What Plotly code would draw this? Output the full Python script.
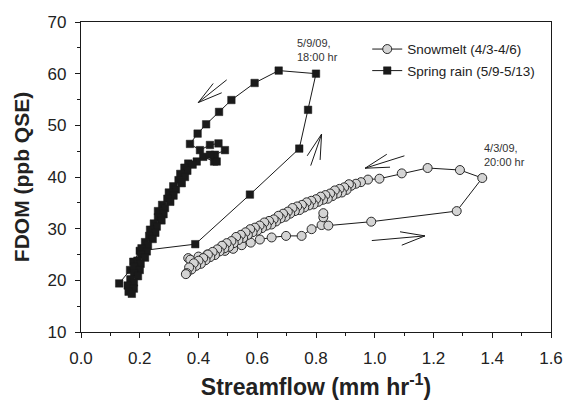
import plotly.graph_objects as go

# ---------------- data ----------------
snow_q = [0.365, 0.372, 0.400, 0.430, 0.460, 0.490, 0.518, 0.547, 0.578, 0.609, 0.649,
          0.698, 0.751, 0.785, 0.819, 0.825, 0.825, 0.842, 0.988, 1.279, 1.366,
          1.290, 1.180, 1.092, 1.016, 0.977, 0.953, 0.936, 0.920,
          0.912, 0.904, 0.896, 0.888, 0.880, 0.872, 0.864, 0.856, 0.848, 0.840,
          0.832, 0.824, 0.816, 0.808, 0.800, 0.792, 0.784, 0.776, 0.768, 0.760,
          0.752, 0.744, 0.736, 0.728, 0.720, 0.712, 0.704, 0.696, 0.688, 0.680,
          0.672, 0.664, 0.656, 0.648, 0.640, 0.632, 0.624, 0.616, 0.608, 0.600,
          0.592, 0.584, 0.576, 0.568, 0.560, 0.552, 0.544, 0.536, 0.528, 0.520,
          0.512, 0.504, 0.496, 0.488, 0.480, 0.472, 0.464, 0.456, 0.448, 0.440,
          0.432, 0.424, 0.416, 0.408, 0.400, 0.392, 0.384, 0.376, 0.368, 0.360,
          0.357]
snow_fdom = [24.3, 24.0, 24.6, 25.0, 25.4, 25.7, 26.1, 26.8, 27.3, 27.9, 28.3,
             28.6, 28.6, 29.9, 30.7, 32.2, 33.0, 30.6, 31.35, 33.4, 39.8,
             41.35, 41.74, 40.7, 39.67, 39.5, 39.0, 38.7, 38.3,
             38.6, 37.5, 38.0, 37.0, 37.7, 36.8, 37.4, 36.3, 36.8, 35.8,
             36.5, 35.6, 36.2, 35.2, 35.7, 34.7, 35.4, 34.5, 35.1, 34.1,
             34.6, 33.6, 34.3, 33.4, 34.0, 32.9, 33.3, 32.3, 32.9, 32.0,
             32.5, 31.4, 31.8, 30.8, 31.5, 30.6, 31.2, 30.1, 30.6, 29.6,
             30.2, 29.3, 29.9, 28.8, 29.3, 28.2, 28.8, 27.8, 28.4, 27.2,
             27.6, 26.5, 27.2, 26.2, 26.7, 25.6, 26.0, 24.9, 25.5, 24.5,
             25.0, 23.9, 24.3, 23.2, 23.8, 22.8, 23.3, 22.1, 22.5, 21.4,
             21.2]

rain_q = [0.130, 0.167, 0.178, 0.200, 0.389, 0.575, 0.743, 0.773, 0.800, 0.673,
          0.591, 0.512, 0.470, 0.426, 0.397, 0.371, 0.405, 0.439, 0.468, 0.490,
          0.456, 0.416, 0.453, 0.462, 0.439, 0.394, 0.365,
          0.380, 0.352, 0.362, 0.338, 0.354, 0.332, 0.343, 0.314, 0.323, 0.299,
          0.315, 0.294, 0.304, 0.276, 0.286, 0.262, 0.281, 0.262, 0.274, 0.248,
          0.258, 0.235, 0.253, 0.232, 0.244, 0.218, 0.228, 0.206, 0.224, 0.205,
          0.218, 0.192, 0.203, 0.181, 0.200, 0.181, 0.194, 0.168, 0.180, 0.159,
          0.180, 0.162, 0.173]
rain_fdom = [19.4, 22.0, 23.6, 25.7, 27.0, 36.6, 45.5, 53.0, 60.0, 60.6,
             58.2, 54.9, 52.6, 50.2, 48.4, 46.4, 45.2, 46.2, 46.5, 45.2,
             44.3, 43.9, 43.0, 43.0, 44.3, 43.0, 42.6,
             42.4, 41.8, 41.2, 40.6, 40.0, 39.4, 38.8, 38.2, 37.6, 37.0,
             36.4, 35.8, 35.2, 34.6, 34.0, 33.4, 32.8, 32.2, 31.6, 31.0,
             30.4, 29.8, 29.2, 28.6, 28.0, 27.4, 26.8, 26.2, 25.6, 25.0,
             24.4, 23.8, 23.2, 22.6, 22.0, 21.4, 20.8, 20.2, 19.6, 19.0,
             18.4, 17.8, 17.4]

series_names = ["Snowmelt (4/3-4/6)", "Spring rain (5/9-5/13)"]
x_ticks = [0.0, 0.2, 0.4, 0.6, 0.8, 1.0, 1.2, 1.4, 1.6]
y_ticks = [10, 20, 30, 40, 50, 60, 70]

# ---------------- figure ----------------
FONT = "Arial, Liberation Sans, Helvetica, sans-serif"
fig = go.Figure()

fig.add_trace(go.Scatter(
    x=snow_q, y=snow_fdom, mode="lines+markers", name=series_names[0],
    legendgroup="a",
    line=dict(color="#1a1a1a", width=1),
    marker=dict(symbol="circle", size=9, color="#d4d4d4",
                line=dict(color="#2a2a2a", width=1)),
))
fig.add_trace(go.Scatter(
    x=rain_q, y=rain_fdom, mode="lines+markers", name=series_names[1],
    legendgroup="b",
    line=dict(color="#1a1a1a", width=1),
    marker=dict(symbol="square", size=7.5, color="#1a1a1a",
                line=dict(color="#1a1a1a", width=0.5)),
))

# open-headed arrows (tip, then the three strokes leaving it)
arrows = [
    ((0.399, 54.4), [(0.496, 58.8), (0.450, 58.1), (0.479, 56.3)]),
    ((0.819, 48.3), [(0.770, 44.1), (0.782, 42.2), (0.814, 43.3)]),
    ((0.967, 41.7), [(1.101, 44.1), (1.041, 44.4), (1.052, 41.9)]),
    ((1.171, 28.6), [(0.990, 27.7), (1.086, 29.4), (1.092, 26.8)]),
]
shapes = []
for tip, ends in arrows:
    for e in ends:
        shapes.append(dict(type="line", xref="x", yref="y",
                           x0=tip[0], y0=tip[1], x1=e[0], y1=e[1],
                           line=dict(color="#1a1a1a", width=1)))

annotations = [
    dict(x=0.728, y=64.6, xref="x", yref="y", xanchor="left", yanchor="middle",
         text="5/9/09,<br>18:00 hr", showarrow=False, align="left",
         font=dict(family=FONT, size=11, color="#333333")),
    dict(x=1.365, y=44.35, xref="x", yref="y", xanchor="left", yanchor="middle",
         text="4/3/09,<br>20:00 hr", showarrow=False, align="left",
         font=dict(family=FONT, size=11, color="#333333")),
]

axis_common = dict(
    showgrid=False, zeroline=False, showline=True, linecolor="#1a1a1a",
    linewidth=1.2, mirror=True, ticks="outside", ticklen=5, tickwidth=1,
    tickcolor="#1a1a1a", tickfont=dict(family=FONT, size=17, color="#222222"),
    automargin=False,
)

fig.update_layout(
    width=569, height=400,
    margin=dict(l=81, r=18, t=22, b=68),
    paper_bgcolor="white", plot_bgcolor="white",
    font=dict(family=FONT, color="#222222"),
    showlegend=True,
    legend=dict(x=0.609, y=0.962, xanchor="left", yanchor="top",
                tracegroupgap=1,
                bgcolor="rgba(0,0,0,0)", borderwidth=0,
                font=dict(family=FONT, size=13.5, color="#222222")),
    shapes=shapes,
    annotations=annotations,
    xaxis=dict(
        range=[0, 1.6], tickvals=x_ticks,
        ticktext=[f"{v:.1f}" for v in x_ticks],
        ticklabeloverflow="allow", ticklabelstandoff=5,
        minor=dict(dtick=0.1, ticks="outside", ticklen=3, tickcolor="#1a1a1a"),
        title=dict(text="<b>Streamflow (mm hr<sup>-1</sup>)</b>",
                   font=dict(family=FONT, size=23, color="#222222"), standoff=20),
        **axis_common,
    ),
    yaxis=dict(
        range=[10, 70], tickvals=y_ticks,
        ticktext=[str(v) for v in y_ticks],
        ticklabelstandoff=5,
        minor=dict(dtick=5, ticks="outside", ticklen=3, tickcolor="#1a1a1a"),
        title=dict(text="<b>FDOM (ppb QSE)</b>",
                   font=dict(family=FONT, size=21, color="#222222"), standoff=12),
        **axis_common,
    ),
)

fig.write_html(
    "out.html",
    config={"displayModeBar": False},
    post_script="document.body.style.margin='0';document.body.style.overflow='hidden';",
)
